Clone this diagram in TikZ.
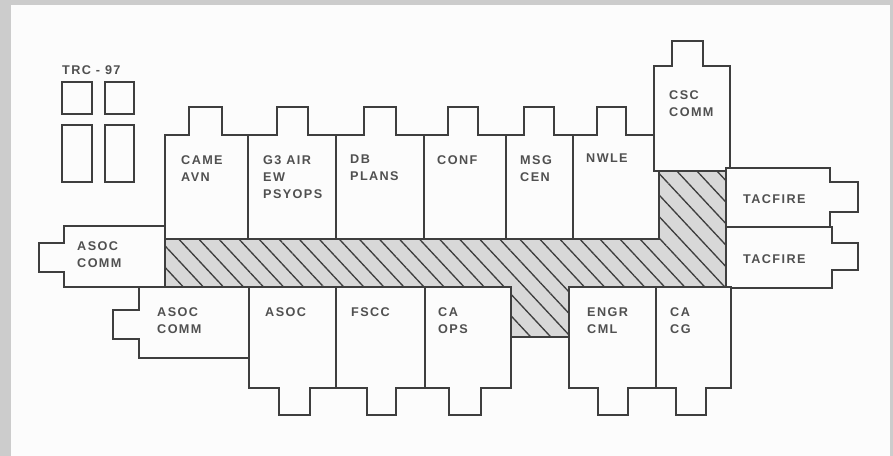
\documentclass[tikz,border=0pt]{standalone}
\usepackage{fontspec}
\setmainfont{Liberation Sans}[LetterSpace=11]
\usepackage{xcolor}
\usepackage{tikz}
\usetikzlibrary{patterns.meta}

\definecolor{inkgray}{HTML}{3E3E3E}
\definecolor{textgray}{HTML}{505050}
\definecolor{papergray}{HTML}{FCFCFC}
\definecolor{framegray}{HTML}{CCCCCC}
\definecolor{shadegray}{HTML}{D8D8D8}

\begin{document}
\begin{tikzpicture}[
    x=0.03cm,
    y=-0.03cm,
    room/.style={
        draw=inkgray,
        fill=papergray,
        line width=0.065cm
    },
    hatched/.style={
        draw=inkgray,
        line width=0.065cm,
        fill=shadegray,
        postaction={pattern={Lines[angle=-47,distance=0.44cm,line width=0.04cm]},pattern color=inkgray}
    },
    lbl/.style={
        anchor=north west,
        inner sep=0pt,
        align=left,
        text=textgray,
        font=\fontsize{10.8}{14.5}\selectfont\bfseries
    }
]

% ==========================================
% PAGE
% ==========================================
\useasboundingbox (0,0) rectangle (893,456);
\fill[framegray] (0,0) rectangle (893,456);
\fill[papergray] (11,5) rectangle (890,456);

% ==========================================
% TRC-97 SHELTERS
% ==========================================
\draw[room] (62,82) rectangle (92,114);
\draw[room] (105,82) rectangle (134,114);
\draw[room] (62,125) rectangle (92,182);
\draw[room] (105,125) rectangle (134,182);
\node[lbl] (trc) at (62,65) {TRC - 97};

% ==========================================
% CENTRAL PASSAGE
% ==========================================
\draw[hatched] (165,239) -- (659,239) -- (659,171) -- (726,171) -- (726,287)
    -- (569,287) -- (569,337) -- (511,337) -- (511,287) -- (165,287) -- cycle;

% ==========================================
% TOP ROW
% ==========================================
\draw[room] (165,239) -- (165,135) -- (189,135) -- (189,107) -- (222,107) -- (222,135)
    -- (248,135) -- (248,239) -- cycle;
\draw[room] (248,239) -- (248,135) -- (277,135) -- (277,107) -- (308,107) -- (308,135)
    -- (336,135) -- (336,239) -- cycle;
\draw[room] (336,239) -- (336,135) -- (364,135) -- (364,107) -- (396,107) -- (396,135)
    -- (424,135) -- (424,239) -- cycle;
\draw[room] (424,239) -- (424,135) -- (448,135) -- (448,107) -- (478,107) -- (478,135)
    -- (506,135) -- (506,239) -- cycle;
\draw[room] (506,239) -- (506,135) -- (524,135) -- (524,107) -- (554,107) -- (554,135)
    -- (573,135) -- (573,239) -- cycle;
\draw[room] (573,239) -- (573,135) -- (597,135) -- (597,107) -- (626,107) -- (626,135)
    -- (654,135) -- (654,171) -- (659,171) -- (659,239) -- cycle;
\draw[room] (654,171) -- (654,66) -- (672,66) -- (672,41) -- (703,41) -- (703,66)
    -- (730,66) -- (730,171) -- cycle;

\node[lbl] (came) at (181,155) {CAME\\AVN};
\node[lbl] (gthree) at (263,155) {G3 AIR\\EW\\PSYOPS};
\node[lbl] (db) at (350,155) {DB\\PLANS};
\node[lbl] (conf) at (437,155) {CONF};
\node[lbl] (msg) at (520,155) {MSG\\CEN};
\node[lbl] (nwle) at (586,154) {NWLE};
\node[lbl] (csc) at (669,90) {CSC\\COMM};

% ==========================================
% RIGHT WING
% ==========================================
\draw[room] (726,168) -- (830,168) -- (830,182) -- (858,182) -- (858,212) -- (830,212)
    -- (830,227) -- (726,227) -- cycle;
\draw[room] (726,227) -- (832,227) -- (832,243) -- (858,243) -- (858,270) -- (832,270)
    -- (832,288) -- (726,288) -- cycle;

\node[lbl] (tacone) at (743,194) {TACFIRE};
\node[lbl] (tactwo) at (743,254) {TACFIRE};

% ==========================================
% LEFT WING
% ==========================================
\draw[room] (165,226) -- (64,226) -- (64,243) -- (39,243) -- (39,272) -- (64,272)
    -- (64,287) -- (165,287) -- cycle;
\draw[room] (249,287) -- (139,287) -- (139,310) -- (113,310) -- (113,339) -- (139,339)
    -- (139,358) -- (249,358) -- cycle;

\node[lbl] (asocone) at (77,241) {ASOC\\COMM};
\node[lbl] (asoctwo) at (157,307) {ASOC\\COMM};

% ==========================================
% BOTTOM ROW
% ==========================================
\draw[room] (249,287) -- (336,287) -- (336,388) -- (310,388) -- (310,415) -- (279,415)
    -- (279,388) -- (249,388) -- cycle;
\draw[room] (336,287) -- (425,287) -- (425,388) -- (396,388) -- (396,415) -- (367,415)
    -- (367,388) -- (336,388) -- cycle;
\draw[room] (425,287) -- (511,287) -- (511,388) -- (481,388) -- (481,415) -- (449,415)
    -- (449,388) -- (425,388) -- cycle;
\draw[room] (569,287) -- (656,287) -- (656,388) -- (628,388) -- (628,415) -- (598,415)
    -- (598,388) -- (569,388) -- cycle;
\draw[room] (656,287) -- (731,287) -- (731,388) -- (706,388) -- (706,415) -- (676,415)
    -- (676,388) -- (656,388) -- cycle;

\node[lbl] (asoc) at (265,307) {ASOC};
\node[lbl] (fscc) at (351,307) {FSCC};
\node[lbl] (caops) at (438,307) {CA\\OPS};
\node[lbl] (engr) at (587,307) {ENGR\\CML};
\node[lbl] (cacg) at (670,307) {CA\\CG};

\end{tikzpicture}
\end{document}
